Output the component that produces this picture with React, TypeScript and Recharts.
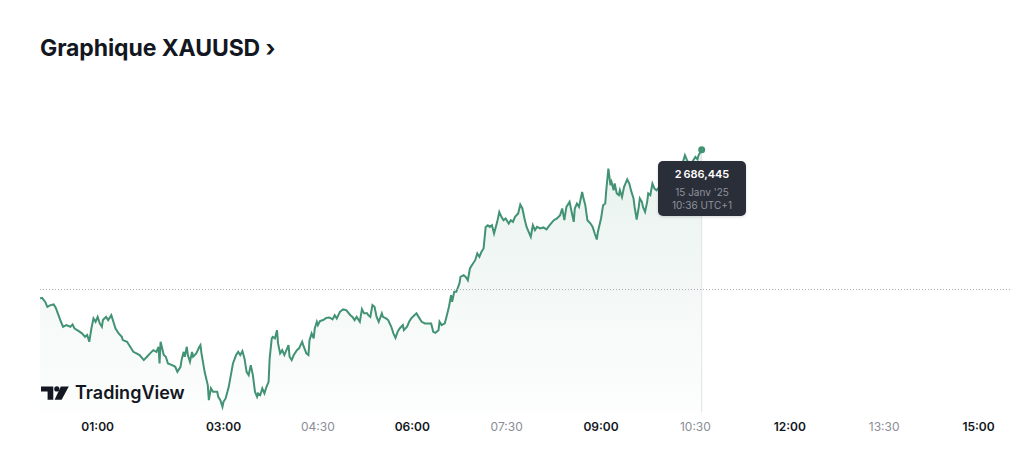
import React from 'react';
import { Area, AreaChart, ReferenceLine, Tooltip, XAxis, YAxis } from 'recharts';

// minutes after midnight (UTC+1), 15 Jan 2025
const minutes = [
  5, 7, 10, 12, 15, 18, 20, 22, 25, 27,
  30, 34, 36, 38, 42, 45, 48, 50, 52, 54,
  56, 58, 60, 62, 64, 65, 68, 70, 73, 75,
  77, 80, 83, 84, 88, 91, 94, 97, 100, 104,
  107, 110, 113, 116, 118, 119, 120, 123, 125, 127,
  131, 134, 136, 139, 140, 142, 143, 145, 146, 148,
  150, 151, 154, 157, 158, 159, 162, 165, 166, 168,
  170, 174, 175, 177, 179, 180, 182, 185, 187, 189,
  192, 194, 196, 198, 200, 202, 204, 206, 208, 210,
  212, 213, 215, 217, 219, 221, 223, 224, 226, 227,
  229, 231, 232, 234, 236, 238, 240, 242, 243, 245,
  247, 250, 252, 255, 256, 259, 261, 262, 264, 266,
  267, 269, 270, 272, 275, 278, 281, 284, 286, 288,
  291, 294, 297, 301, 303, 305, 307, 310, 312, 314,
  317, 318, 320, 322, 324, 326, 328, 331, 332, 335,
  337, 340, 342, 344, 346, 348, 351, 352, 355, 357,
  359, 362, 364, 366, 369, 372, 375, 378, 380, 382,
  385, 386, 388, 391, 393, 395, 397, 398, 400, 402,
  405, 406, 409, 411, 413, 415, 417, 420, 422, 424,
  426, 428, 430, 432, 434, 436, 438, 441, 443, 445,
  447, 449, 452, 454, 456, 458, 461, 463, 465, 467,
  469, 471, 473, 475, 477, 479, 482, 485, 488, 491,
  495, 498, 501, 503, 505, 507, 510, 512, 514, 515,
  517, 519, 522, 523, 525, 527, 530, 532, 534, 536,
  537, 540, 542, 544, 545, 547, 549, 550, 552, 553,
  555, 557, 558, 560, 562, 565, 567, 569, 571, 572,
  574, 576, 577, 579, 580, 582, 584, 585, 587, 589,
  591, 593, 596, 601, 606, 611, 615, 618, 620, 622,
  625, 628, 630, 632, 633, 636,
];

const prices = [
  2675.82, 2675.86, 2675.57, 2675.22, 2675.34, 2675.39, 2675.15, 2674.75, 2674.15, 2673.79,
  2673.91, 2673.79, 2673.96, 2673.67, 2673.48, 2673.32, 2673.07, 2673.2, 2672.72, 2673.67,
  2674.39, 2674.15, 2674.5, 2674.03, 2673.79, 2674.27, 2674.5, 2674.27, 2674.62, 2674.15,
  2673.67, 2673.32, 2673.07, 2672.84, 2672.72, 2672.36, 2672.0, 2671.89, 2671.77, 2671.41,
  2671.65, 2671.89, 2672.12, 2672.0, 2672.36, 2671.17, 2672.72, 2671.77, 2671.65, 2671.17,
  2671.05, 2670.93, 2670.57, 2670.93, 2671.41, 2672.0, 2671.65, 2672.36, 2671.77, 2671.29,
  2672.0, 2671.65, 2671.89, 2672.36, 2672.48, 2671.89, 2670.57, 2669.62, 2668.55, 2669.39,
  2669.15, 2669.15, 2668.79, 2668.55, 2668.07, 2668.43, 2668.67, 2669.5, 2670.34, 2671.17,
  2671.77, 2672.0, 2671.77, 2672.05, 2671.53, 2670.57, 2670.34, 2671.05, 2670.34, 2669.15,
  2668.79, 2669.03, 2668.91, 2669.39, 2669.03, 2669.5, 2669.86, 2671.53, 2672.96, 2673.07,
  2672.96, 2673.55, 2672.6, 2671.89, 2672.12, 2671.77, 2672.12, 2672.48, 2671.65, 2671.41,
  2671.77, 2672.12, 2672.25, 2672.72, 2672.48, 2671.89, 2671.77, 2672.84, 2673.32, 2672.96,
  2673.67, 2674.15, 2673.91, 2674.2, 2674.27, 2674.43, 2674.46, 2674.32, 2674.62, 2674.39,
  2674.86, 2675.03, 2674.98, 2674.62, 2674.5, 2674.27, 2674.5, 2674.15, 2675.05, 2674.75,
  2674.75, 2674.62, 2674.5, 2675.34, 2675.22, 2674.5, 2674.15, 2674.75, 2674.5, 2674.39,
  2674.27, 2673.79, 2673.32, 2673.0, 2673.43, 2673.67, 2673.91, 2673.55, 2673.79, 2674.15,
  2674.39, 2674.62, 2674.75, 2674.5, 2674.15, 2674.03, 2674.03, 2674.03, 2673.43, 2673.36,
  2673.55, 2674.15, 2673.91, 2674.03, 2674.62, 2675.22, 2676.05, 2675.57, 2676.29, 2676.29,
  2676.89, 2677.36, 2677.48, 2677.36, 2677.12, 2677.96, 2678.2, 2678.55, 2679.03, 2678.79,
  2679.15, 2679.39, 2680.93, 2681.05, 2680.93, 2681.05, 2680.46, 2681.29, 2682.0, 2681.65,
  2681.41, 2681.53, 2681.17, 2681.41, 2681.29, 2681.65, 2681.89, 2682.53, 2682.25, 2681.53,
  2680.93, 2680.57, 2680.22, 2681.05, 2680.7, 2680.93, 2680.82, 2680.89, 2680.75, 2681.05,
  2681.41, 2681.53, 2681.77, 2682.25, 2681.41, 2682.36, 2682.72, 2682.0, 2681.29, 2682.25,
  2682.6, 2682.36, 2683.43, 2683.07, 2682.48, 2681.41, 2681.17, 2680.93, 2680.46, 2680.03,
  2680.57, 2681.53, 2682.48, 2682.6, 2683.55, 2685.1, 2683.91, 2684.15, 2683.55, 2684.03,
  2683.32, 2683.2, 2683.55, 2683.07, 2683.79, 2684.32, 2684.03, 2683.43, 2682.96, 2682.36,
  2681.46, 2682.36, 2682.96, 2682.72, 2682.36, 2682.0, 2682.72, 2683.32, 2683.2, 2684.03,
  2683.67, 2683.55, 2683.84, 2684.12, 2684.41, 2684.84, 2685.12, 2685.55, 2686.05, 2685.7,
  2685.34, 2685.7, 2685.93, 2685.77, 2686.05, 2686.445,
];

const tickMinutes = [60, 180, 270, 360, 450, 540, 630, 720, 810, 900];
const majorTicks = [60, 180, 360, 540, 720, 900];
const prevClose = 2676.45;
const symbol = 'XAUUSD';
const dateLabel = "15 Janv '25";
const tzLabel = 'UTC+1';

const data = minutes.map((t, i) => ({ t, price: prices[i] }));
const lastIndex = data.length - 1;

const GREEN = '#429274';
const FONT = 'Inter, "Noto Sans", sans-serif';
const Y_DOMAIN: [number, number] = [2667.7, 2690];

const hhmm = (m: number) =>
  `${String(Math.floor(m / 60)).padStart(2, '0')}:${String(m % 60).padStart(2, '0')}`;

function TimeTick({ x, y, payload }: any) {
  const major = majorTicks.includes(payload.value);
  return (
    <text
      x={x}
      y={y}
      dy="0.71em"
      textAnchor="middle"
      fontFamily={FONT}
      fontSize={12}
      fontWeight={major ? 600 : 400}
      fill={major ? '#131722' : '#8a8d96'}
    >
      {hhmm(payload.value)}
    </text>
  );
}

function PriceTooltip({ payload }: any) {
  if (!payload || !payload.length) return null;
  const p = payload[0].payload;
  const price = p.price.toLocaleString('fr-FR', { minimumFractionDigits: 3 });
  return (
    <div
      style={{
        width: 88,
        height: 55,
        boxSizing: 'border-box',
        padding: '5px 0 0',
        background: '#2a2e39',
        borderRadius: 5,
        fontFamily: FONT,
        textAlign: 'center',
        boxShadow: '0 1px 3px rgba(0,0,0,0.15)',
      }}
    >
      <div style={{ color: '#ffffff', fontSize: 11, fontWeight: 600, lineHeight: '16px' }}>{price}</div>
      <div style={{ color: '#8f929b', fontSize: 10, lineHeight: '13px', marginTop: 4 }}>{dateLabel}</div>
      <div style={{ color: '#8f929b', fontSize: 10, lineHeight: '13px' }}>
        {hhmm(p.t)} {tzLabel}
      </div>
    </div>
  );
}

function EndDot(props: any) {
  if (props.index !== lastIndex) return null;
  return <circle cx={props.cx} cy={props.cy} r={3.5} fill={GREEN} />;
}

function Logo() {
  return (
    <div
      style={{
        position: 'absolute',
        left: 41,
        top: 384,
        display: 'flex',
        alignItems: 'center',
        gap: 6,
        fontFamily: FONT,
        fontSize: 18,
        fontWeight: 600,
        lineHeight: '18px',
        color: '#131722',
      }}
    >
      <svg width={28} height={14} viewBox="0 0 28 13.5">
        <path d="M0 0.2H12.3V13.5H6.6V5.2H0Z" fill="#131722" />
        <circle cx={15.8} cy={2.7} r={2.6} fill="#131722" />
        <path d="M19.8 0.2H27.8L20.6 13.5H13.6Z" fill="#131722" />
      </svg>
      <span>TradingView</span>
    </div>
  );
}

export default function App() {
  return (
    <div style={{ position: 'absolute', left: 0, top: 0, width: 1024, height: 453, background: '#ffffff' }}>
      <div
        style={{
          position: 'absolute',
          left: 40,
          top: 37,
          fontFamily: FONT,
          fontSize: 23,
          fontWeight: 700,
          lineHeight: '22px',
          color: '#131722',
          letterSpacing: -0.1,
        }}
      >
        Graphique {symbol} ›
      </div>
      <AreaChart
        width={1024}
        height={453}
        data={data}
        margin={{ top: 100, right: 14, bottom: 11, left: 40 }}
      >
        <defs>
          <linearGradient id="goldFill" x1="0" y1="0" x2="0" y2="1">
            <stop offset="0%" stopColor={GREEN} stopOpacity={0.2} />
            <stop offset="100%" stopColor={GREEN} stopOpacity={0.02} />
          </linearGradient>
        </defs>
        <XAxis
          dataKey="t"
          type="number"
          domain={[5, 930]}
          ticks={tickMinutes}
          interval={0}
          axisLine={false}
          tickLine={false}
          tickSize={6}
          tickMargin={4}
          height={30}
          tick={<TimeTick />}
        />
        <YAxis hide domain={Y_DOMAIN} allowDataOverflow />
        <ReferenceLine
          segment={[
            { x: minutes[lastIndex], y: Y_DOMAIN[0] },
            { x: minutes[lastIndex], y: prices[lastIndex] },
          ]}
          stroke="#dfe2e8"
          strokeWidth={1}
        />
        <Area
          type="linear"
          dataKey="price"
          stroke={GREEN}
          strokeWidth={2}
          fill="url(#goldFill)"
          dot={<EndDot />}
          activeDot={false}
          isAnimationActive={false}
        />
        <ReferenceLine y={prevClose} stroke="#a3a6af" strokeDasharray="1 2" strokeWidth={1} />
        <Tooltip
          active
          defaultIndex={lastIndex}
          position={{ x: 658, y: 161 }}
          cursor={false}
          isAnimationActive={false}
          content={<PriceTooltip />}
          wrapperStyle={{ outline: 'none' }}
        />
      </AreaChart>
      <Logo />
    </div>
  );
}
